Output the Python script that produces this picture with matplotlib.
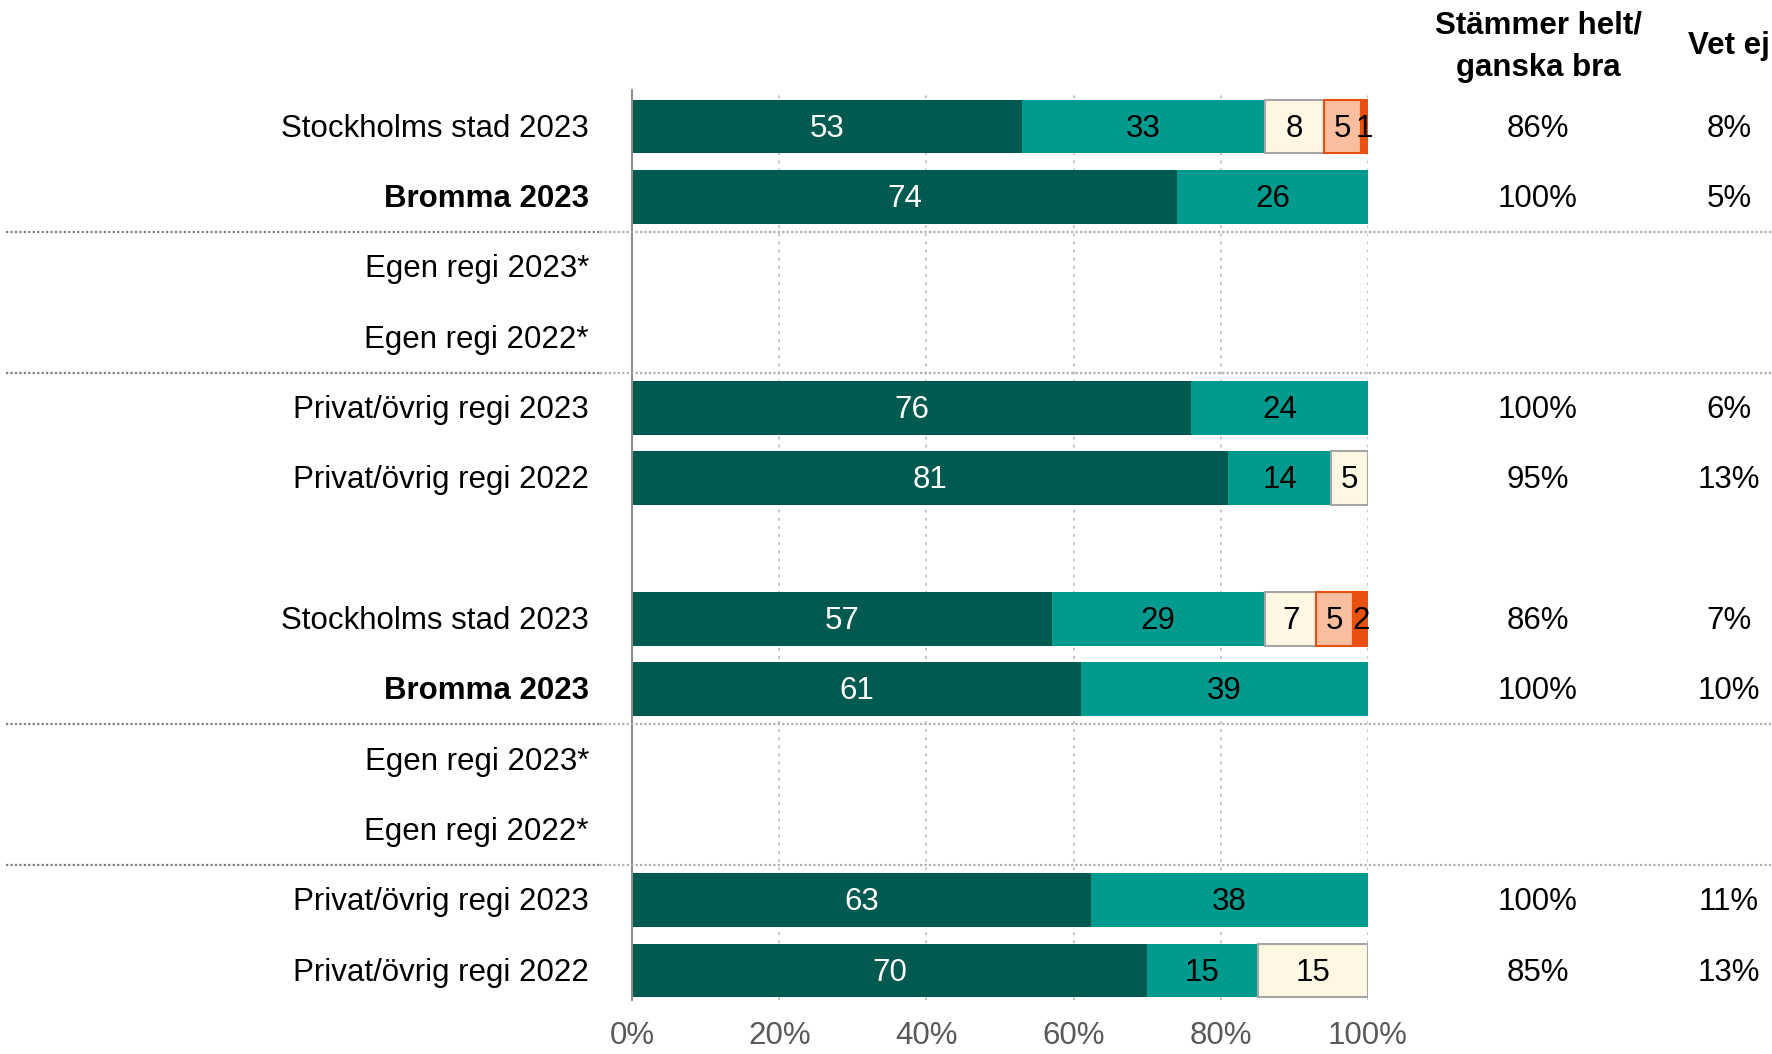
import matplotlib
matplotlib.use("Agg")
import matplotlib.pyplot as plt
from matplotlib.transforms import blended_transform_factory

plt.rcParams['font.family'] = ['Liberation Sans', 'DejaVu Sans']

# ---- data ----
row_labels = [
    "Stockholms stad 2023", "Bromma 2023", "Egen regi 2023*", "Egen regi 2022*",
    "Privat/övrig regi 2023", "Privat/övrig regi 2022",
    None,
    "Stockholms stad 2023", "Bromma 2023", "Egen regi 2023*", "Egen regi 2022*",
    "Privat/övrig regi 2023", "Privat/övrig regi 2022",
]
bold_rows = [1, 8]

# segments: helt bra, ganska bra, mitt, ganska dåligt, dåligt
seg_helt   = [53, 74, None, None, 76, 81, None, 57, 61, None, None, 63, 70]
seg_ganska = [33, 26, None, None, 24, 14, None, 29, 39, None, None, 38, 15]
seg_mitt   = [8,  0,  None, None, 0,  5,  None, 7,  0,  None, None, 0,  15]
seg_ganska_dalig = [5, 0, None, None, 0, 0, None, 5, 0, None, None, 0, 0]
seg_dalig  = [1,  0,  None, None, 0,  0,  None, 2,  0,  None, None, 0,  0]

col_stammer = ["86%", "100%", "", "", "100%", "95%", None, "86%", "100%", "", "", "100%", "85%"]
col_vetej   = ["8%", "5%", "", "", "6%", "13%", None, "7%", "10%", "", "", "11%", "13%"]

x_ticks = [0, 20, 40, 60, 80, 100]
x_ticklabels = ["0%", "20%", "40%", "60%", "80%", "100%"]

header_stammer = "Stämmer helt/\nganska bra"
header_vetej = "Vet ej"

separators_after = [1, 3, 8, 10]

# ---- style ----
colors = ["#005A4F", "#009A8F", "#FFF6E3", "#F8BE9D", "#E8500F"]
edges = ["#005A4F", "#009A8F", "#A6A6A6", "#E8500F", "#E8500F"]
text_colors = ["white", "black", "black", "black", "black"]
FS = 22.5

fig = plt.figure(figsize=(17.72, 10.54), dpi=100)
ax = fig.add_axes([632 / 1772, 1 - 1000 / 1054, 736 / 1772, 910 / 1054])

segments = [seg_helt, seg_ganska, seg_mitt, seg_ganska_dalig, seg_dalig]
for i in range(len(row_labels)):
    if row_labels[i] is None or seg_helt[i] is None:
        continue
    vals = [s[i] for s in segments]
    total = sum(vals)
    left = 0
    for k, v in enumerate(vals):
        if v == 0:
            continue
        w = v / total * 100
        lw = 1.5 if k >= 2 else 0
        ax.barh(i, w, left=left, height=0.76, color=colors[k],
                edgecolor=edges[k], linewidth=lw, zorder=3)
        ax.text(left + w / 2, i + 0.03, f"{v}", ha="center", va="center",
                fontsize=FS, color=text_colors[k], zorder=4)
        left += w

ax.set_xlim(0, 100)
ax.set_ylim(12.42, -0.52)
ax.set_yticks([])
ax.set_xticks(x_ticks)
ax.set_xticklabels(x_ticklabels, fontsize=FS, color="#595959")
ax.tick_params(axis="x", length=0, pad=15)
for s in ["top", "right", "bottom"]:
    ax.spines[s].set_visible(False)
ax.spines["left"].set_color("#8C8C8C")
ax.spines["left"].set_linewidth(1.5)
ax.spines["left"].set_zorder(5)
for xv in x_ticks[1:]:
    ax.axvline(xv, color="#BFBFBF", linestyle=(0, (1.5, 3)), linewidth=1.3, zorder=1)

# row labels
ylab = blended_transform_factory(fig.transFigure, ax.transData)
for i, lab in enumerate(row_labels):
    if lab is None:
        continue
    ax.text(589 / 1772, i + 0.03, lab, transform=ylab, ha="right", va="center",
            fontsize=FS, fontweight="bold" if i in bold_rows else "normal", color="black")
    if col_stammer[i]:
        ax.text(1538 / 1772, i + 0.03, col_stammer[i], transform=ylab, ha="center", va="center",
                fontsize=FS, color="black")
    if col_vetej[i]:
        ax.text(1729 / 1772, i + 0.03, col_vetej[i], transform=ylab, ha="center", va="center",
                fontsize=FS, color="black")

# separators
for r in separators_after:
    y = r + 0.5
    ax.plot([6 / 1772, 600 / 1772], [y, y], transform=ylab, color="#808080",
            linestyle=(0, (1, 1)), linewidth=1.6, clip_on=False, zorder=6)
    ax.plot([600 / 1772, 1.0], [y, y], transform=ylab, color="#B0B0B0",
            linestyle=(0, (1, 1)), linewidth=1.6, clip_on=False, zorder=6)

# headers
fig.text(1538 / 1772, 1 - 47 / 1054, header_stammer, ha="center", va="center",
         fontsize=FS, fontweight="bold", linespacing=1.55)
fig.text(1729 / 1772, 1 - 46 / 1054, header_vetej, ha="center", va="center",
         fontsize=FS, fontweight="bold")

fig.savefig("out.png", dpi=100)
